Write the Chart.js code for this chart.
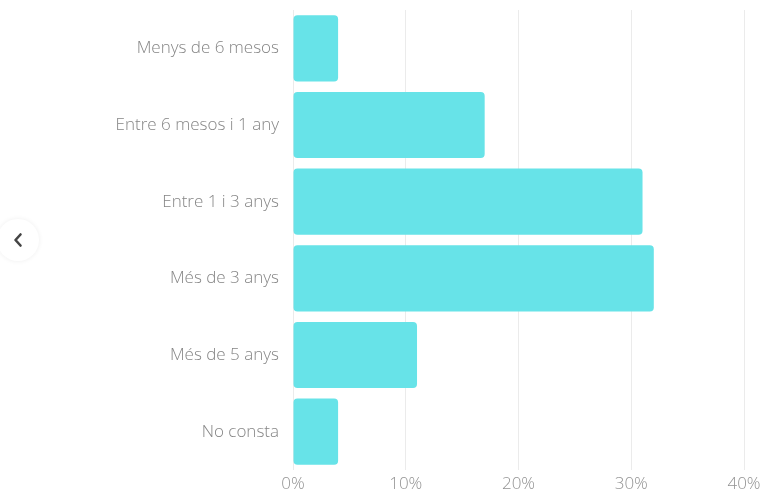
<!DOCTYPE html>
<html>
<head>
<meta charset="utf-8">
<script src="https://cdn.jsdelivr.net/npm/chart.js@4"></script>
<style>
  html, body { margin: 0; padding: 0; background: #fff; }
  #wrap { position: relative; width: 762px; height: 493px; }
  #chart { position: absolute; left: 0; top: 0; }
  .nav-prev {
    position: absolute; left: -3px; top: 219px; width: 42px; height: 42px;
    border-radius: 50%; background: #fff;
    box-shadow: 0 0 5px rgba(0,0,0,0.07);
    display: flex; align-items: center; justify-content: center;
  }
  .nav-prev svg { display: block; }
</style>
</head>
<body>
<div id="wrap">
  <canvas id="chart" width="762" height="493"></canvas>
  <div class="nav-prev">
    <svg width="12" height="16" viewBox="0 0 12 16"><path d="M8.5 2.5 L3.5 8 L8.5 13.5" fill="none" stroke="#444" stroke-width="2.6" stroke-linecap="round" stroke-linejoin="round"/></svg>
  </div>
</div>
<script>
// Time spent in the situation, share of cases (%)
const categories = [
  'Menys de 6 mesos',
  'Entre 6 mesos i 1 any',
  'Entre 1 i 3 anys',
  'Més de 3 anys',
  'Més de 5 anys',
  'No consta'
];
const shares = [4, 17, 31, 32, 11, 4];
const xTicks = [0, 10, 20, 30, 40];

const labelFont = { family: '"Open Sans", sans-serif', size: 17, weight: '300' };

new Chart(document.getElementById('chart'), {
  type: 'bar',
  data: {
    labels: categories,
    datasets: [{
      data: shares,
      backgroundColor: '#67e3e8',
      borderWidth: 0,
      borderRadius: 4,
      borderSkipped: false,
      barPercentage: 0.96,
      categoryPercentage: 0.9
    }]
  },
  options: {
    indexAxis: 'y',
    responsive: false,
    animation: false,
    layout: { padding: { top: 10, right: 18, bottom: 0, left: 0 } },
    plugins: { legend: { display: false }, tooltip: { enabled: false } },
    scales: {
      x: {
        min: 0, max: 40,
        afterBuildTicks: s => { s.ticks = xTicks.map(v => ({ value: v })); },
        afterFit: s => { s.height = 23; s.paddingLeft = 0; s.paddingRight = 0; },
        grid: { color: '#ebebeb', lineWidth: 1, drawTicks: false },
        border: { display: false },
        ticks: {
          padding: 4,
          color: '#939393',
          font: labelFont,
          callback: v => v + '%'
        }
      },
      y: {
        afterFit: s => { s.width = 293; s.paddingTop = 0; s.paddingBottom = 0; },
        grid: { display: false, drawTicks: false },
        border: { display: false },
        ticks: {
          padding: 14,
          color: '#858585',
          font: labelFont
        }
      }
    }
  }
});
</script>
</body>
</html>
